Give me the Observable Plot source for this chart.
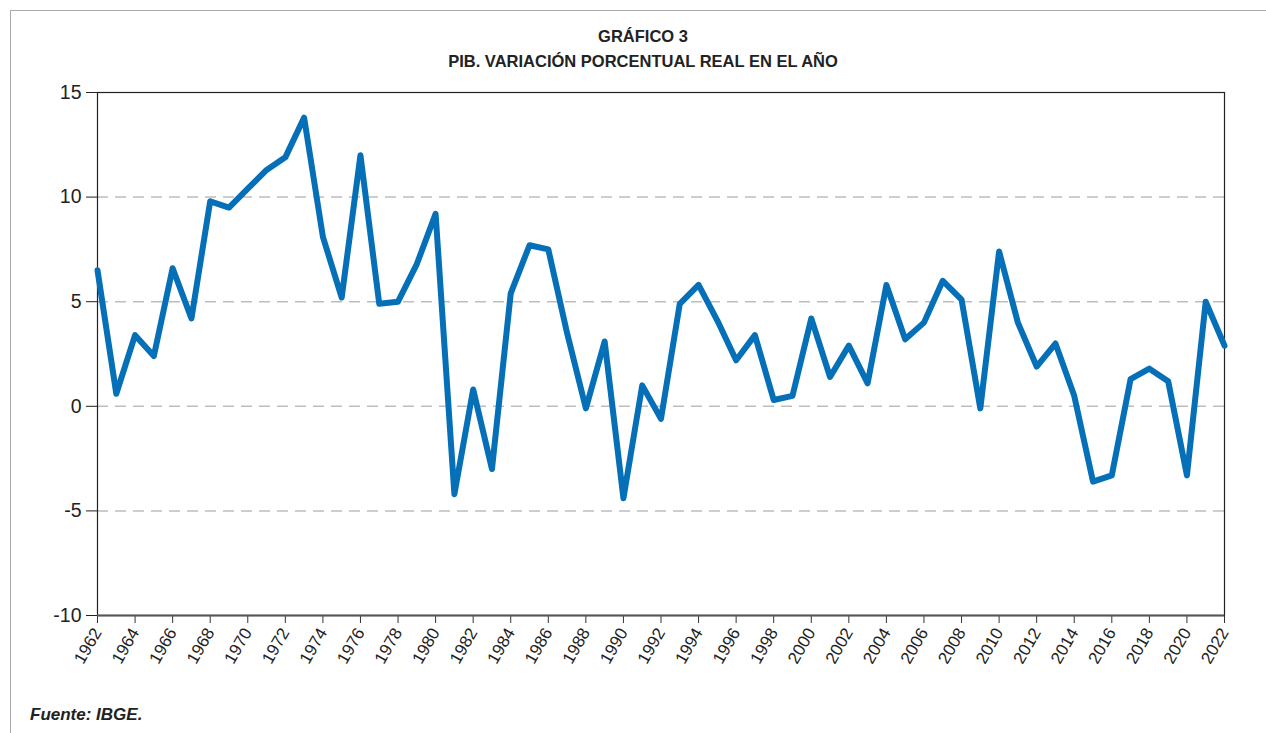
<!DOCTYPE html>
<html>
<head>
<meta charset="utf-8">
<script src="https://cdn.jsdelivr.net/npm/d3@7"></script>
<script src="https://cdn.jsdelivr.net/npm/@observablehq/plot@0.6"></script>
<style>
  html, body { margin: 0; padding: 0; background: #fff; width: 1266px; height: 733px; overflow: hidden; }
  #frame { position: absolute; left: 10px; top: 10px; width: 1300px; height: 800px; border-left: 1.5px solid #aaa; border-top: 1.5px solid #aaa; }
  .title { position: absolute; left: 0; width: 1286px; text-align: center; font-family: "Liberation Sans", Arial, sans-serif; font-weight: bold; font-size: 16.5px; color: #222; }
  #t1 { top: 27px; }
  #t2 { top: 52px; }
  #chart { position: absolute; left: 0; top: 80px; }
  #caption { position: absolute; left: 30px; top: 705px; font-family: "Liberation Sans", Arial, sans-serif; font-weight: bold; font-style: italic; font-size: 17px; color: #222; }
</style>
</head>
<body>
<div id="frame"></div>
<div class="title" id="t1">GRÁFICO 3</div>
<div class="title" id="t2">PIB. VARIACIÓN PORCENTUAL REAL EN EL AÑO</div>
<div id="chart"></div>
<div id="caption">Fuente: IBGE.</div>
<script>
const years = d3.range(1962, 2023);
const values = [
  6.5, 0.6, 3.4, 2.4, 6.6, 4.2, 9.8, 9.5, 10.4, 11.3,
  11.9, 13.8, 8.1, 5.2, 12.0, 4.9, 5.0, 6.8, 9.2, -4.2,
  0.8, -3.0, 5.4, 7.7, 7.5, 3.5, -0.1, 3.1, -4.4, 1.0,
  -0.6, 4.9, 5.8, 4.1, 2.2, 3.4, 0.3, 0.5, 4.2, 1.4,
  2.9, 1.1, 5.8, 3.2, 4.0, 6.0, 5.1, -0.1, 7.4, 4.0,
  1.9, 3.0, 0.5, -3.6, -3.3, 1.3, 1.8, 1.2, -3.3, 5.0,
  2.9
];
const xTicks = d3.range(1962, 2023, 2);
const yTicks = [-10, -5, 0, 5, 10, 15];
const gridValues = [-5, 0, 5, 10];

const data = years.map((y, i) => ({year: y, value: values[i]}));

const chart = Plot.plot({
  width: 1266,
  height: 620,
  marginLeft: 97,
  marginRight: 42,
  marginTop: 12,
  marginBottom: 85,
  style: { fontFamily: "'Liberation Sans', Arial, sans-serif", background: "transparent", color: "#222" },
  x: { domain: [1962, 2022], label: null },
  y: { domain: [-10, 15], label: null },
  marks: [
    Plot.ruleY(gridValues, { stroke: "#bdbdbd", strokeWidth: 1.5, strokeDasharray: "11,7" }),
    Plot.frame({ stroke: "#222", strokeWidth: 1.2 }),
    Plot.axisY({ ticks: yTicks, tickSize: 11, tickPadding: 5, fontSize: 19.5, tickFormat: d => String(d), stroke: "#222" }),
    Plot.axisX({ ticks: xTicks, tickSize: 8, tickPadding: 6, fontSize: 17, tickRotate: -60, tickFormat: d => String(d), stroke: "#333" }),
    Plot.ruleY([-10], { stroke: "#555", strokeWidth: 2 }),
    Plot.line(data, { x: "year", y: "value", stroke: "#0570b8", strokeWidth: 6, strokeLinejoin: "round", strokeLinecap: "round" })
  ]
});
document.getElementById("chart").appendChild(chart);
</script>
</body>
</html>
